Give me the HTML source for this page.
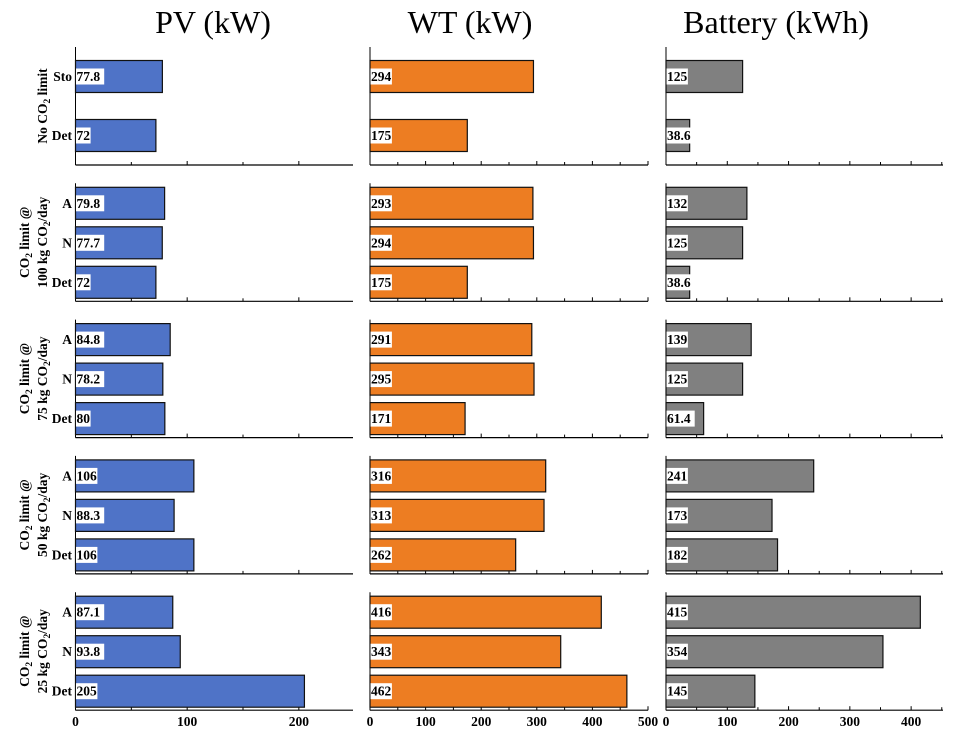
<!DOCTYPE html>
<html><head><meta charset="utf-8">
<style>
html,body{margin:0;padding:0;background:#fff;}
svg{display:block;font-family:"Liberation Serif",serif;}
</style></head>
<body>
<svg id="chart" width="972" height="738" viewBox="0 0 972 738"></svg>
<script>
const columnTitles = ["PV (kW)", "WT (kW)", "Battery (kWh)"];
const groupLine1 = ["No CO|2| limit", "CO|2| limit @", "CO|2| limit @", "CO|2| limit @", "CO|2| limit @"];
const groupLine2 = ["", "100 kg CO|2|/day", "75 kg CO|2|/day", "50 kg CO|2|/day", "25 kg CO|2|/day"];
const categories = [["Sto","Det"],["A","N","Det"],["A","N","Det"],["A","N","Det"],["A","N","Det"]];
const pvValues = [[77.8,72],[79.8,77.7,72],[84.8,78.2,80],[106,88.3,106],[87.1,93.8,205]];
const wtValues = [[294,175],[293,294,175],[291,295,171],[316,313,262],[416,343,462]];
const batValues = [[125,38.6],[132,125,38.6],[139,125,61.4],[241,173,182],[415,354,145]];
const pvLabels = [["77.8","72"],["79.8","77.7","72"],["84.8","78.2","80"],["106","88.3","106"],["87.1","93.8","205"]];
const wtLabels = [["294","175"],["293","294","175"],["291","295","171"],["316","313","262"],["416","343","462"]];
const batLabels = [["125","38.6"],["132","125","38.6"],["139","125","61.4"],["241","173","182"],["415","354","145"]];
const pvTicks = [0,100,200];
const wtTicks = [0,100,200,300,400,500];
const batTicks = [0,100,200,300,400];

const NS = "http://www.w3.org/2000/svg";
const svg = document.getElementById("chart");
function mk(tag, attrs, parent){
  const e = document.createElementNS(NS, tag);
  for (const k in attrs) e.setAttribute(k, attrs[k]);
  (parent||svg).appendChild(e);
  return e;
}
const cols = [
  {x0:75.5, x1:353, max:248.5, vals:pvValues, labs:pvLabels, ticks:pvTicks, minor:50, color:"#4f73c7", name:"pv"},
  {x0:370, x1:648, max:500, vals:wtValues, labs:wtLabels, ticks:wtTicks, minor:50, color:"#ed7d22", name:"wt"},
  {x0:666, x1:943, max:452, vals:batValues, labs:batLabels, ticks:batTicks, minor:50, color:"#808080", name:"battery"}
];
const titleX = [213, 470, 776];
columnTitles.forEach((t,i)=>{
  const e = mk("text",{x:titleX[i], y:33, "text-anchor":"middle", "font-size":"32"});
  e.textContent = t;
  
  
});
function panelTop(k){ return 47 + k*136.3; }
const panelH = 118;
function addSubText(el, str, size){
  const parts = str.split("|");
  parts.forEach((p,i)=>{
    const ts = document.createElementNS(NS,"tspan");
    if (i%2===1){ ts.setAttribute("font-size", size*0.7); ts.setAttribute("dy", "3"); }
    else if (i>0){ ts.setAttribute("dy","-3"); }
    ts.textContent = p;
    el.appendChild(ts);
  });
}
for (let k=0;k<5;k++){
  const top = panelTop(k), bot = top+panelH;
  const n = categories[k].length;
  const centers = n===2 ? [top+29.5, top+88.5] : [top+20, top+59.5, top+99];
  const g = mk("g",{transform:`translate(0,${(top+bot)/2}) rotate(-90)`});
  
  
  if (groupLine2[k]===""){
    const t = mk("text",{x:0,y:47,"text-anchor":"middle","font-size":"13.5","font-weight":"bold"},g);
    addSubText(t, groupLine1[k], 13.5);
  } else {
    const t1 = mk("text",{x:0,y:29,"text-anchor":"middle","font-size":"13.5","font-weight":"bold"},g);
    addSubText(t1, groupLine1[k], 13.5);
    const t2 = mk("text",{x:0,y:47,"text-anchor":"middle","font-size":"13.5","font-weight":"bold"},g);
    addSubText(t2, groupLine2[k], 13.5);
  }
  categories[k].forEach((c,j)=>{
    const t = mk("text",{x:72,y:centers[j]+4.5,"text-anchor":"end","font-size":"13.5","font-weight":"bold"});
    t.textContent = c;
    
    
  });
  cols.forEach(col=>{
    const sx = v => col.x0 + (v/col.max)*(col.x1-col.x0);
    const ya = mk("line",{x1:col.x0,y1:top,x2:col.x0,y2:bot,stroke:"#000","stroke-width":"1"});
    
    
    const xa = mk("line",{x1:col.x0,y1:bot,x2:col.x1,y2:bot,stroke:"#000","stroke-width":"1.2"});
    
    
    for (let v=0; v<=col.max+0.01; v+=col.minor){
      const major = (v % 100)===0;
      const tk = mk("line",{x1:sx(v),y1:bot,x2:sx(v),y2:bot-(major?4:3),stroke:"#000","stroke-width":"1"});
      
      
    }
    if (k===4){
      col.ticks.forEach(v=>{
        const t = mk("text",{x:sx(v),y:bot+16,"text-anchor":"middle","font-size":"13.5","font-weight":"bold"});
        t.textContent = String(v);
        
        
      });
    }
    col.vals[k].forEach((v,j)=>{
      const r = mk("rect",{x:col.x0,y:centers[j]-16,width:sx(v)-col.x0,height:32,fill:col.color,stroke:"#111","stroke-width":"1.2"});
      
      
      const lab = col.labs[k][j];
      const w = lab.length*6.8+1;
      const bg = mk("rect",{x:col.x0+0.5,y:centers[j]-8,width:w,height:16,fill:"#fff"});
      
      
      const t = mk("text",{x:col.x0+1,y:centers[j]+4.5,"font-size":"13.5","font-weight":"bold"});
      t.textContent = lab;
      
      
    });
  });
}
</script>
</body></html>
